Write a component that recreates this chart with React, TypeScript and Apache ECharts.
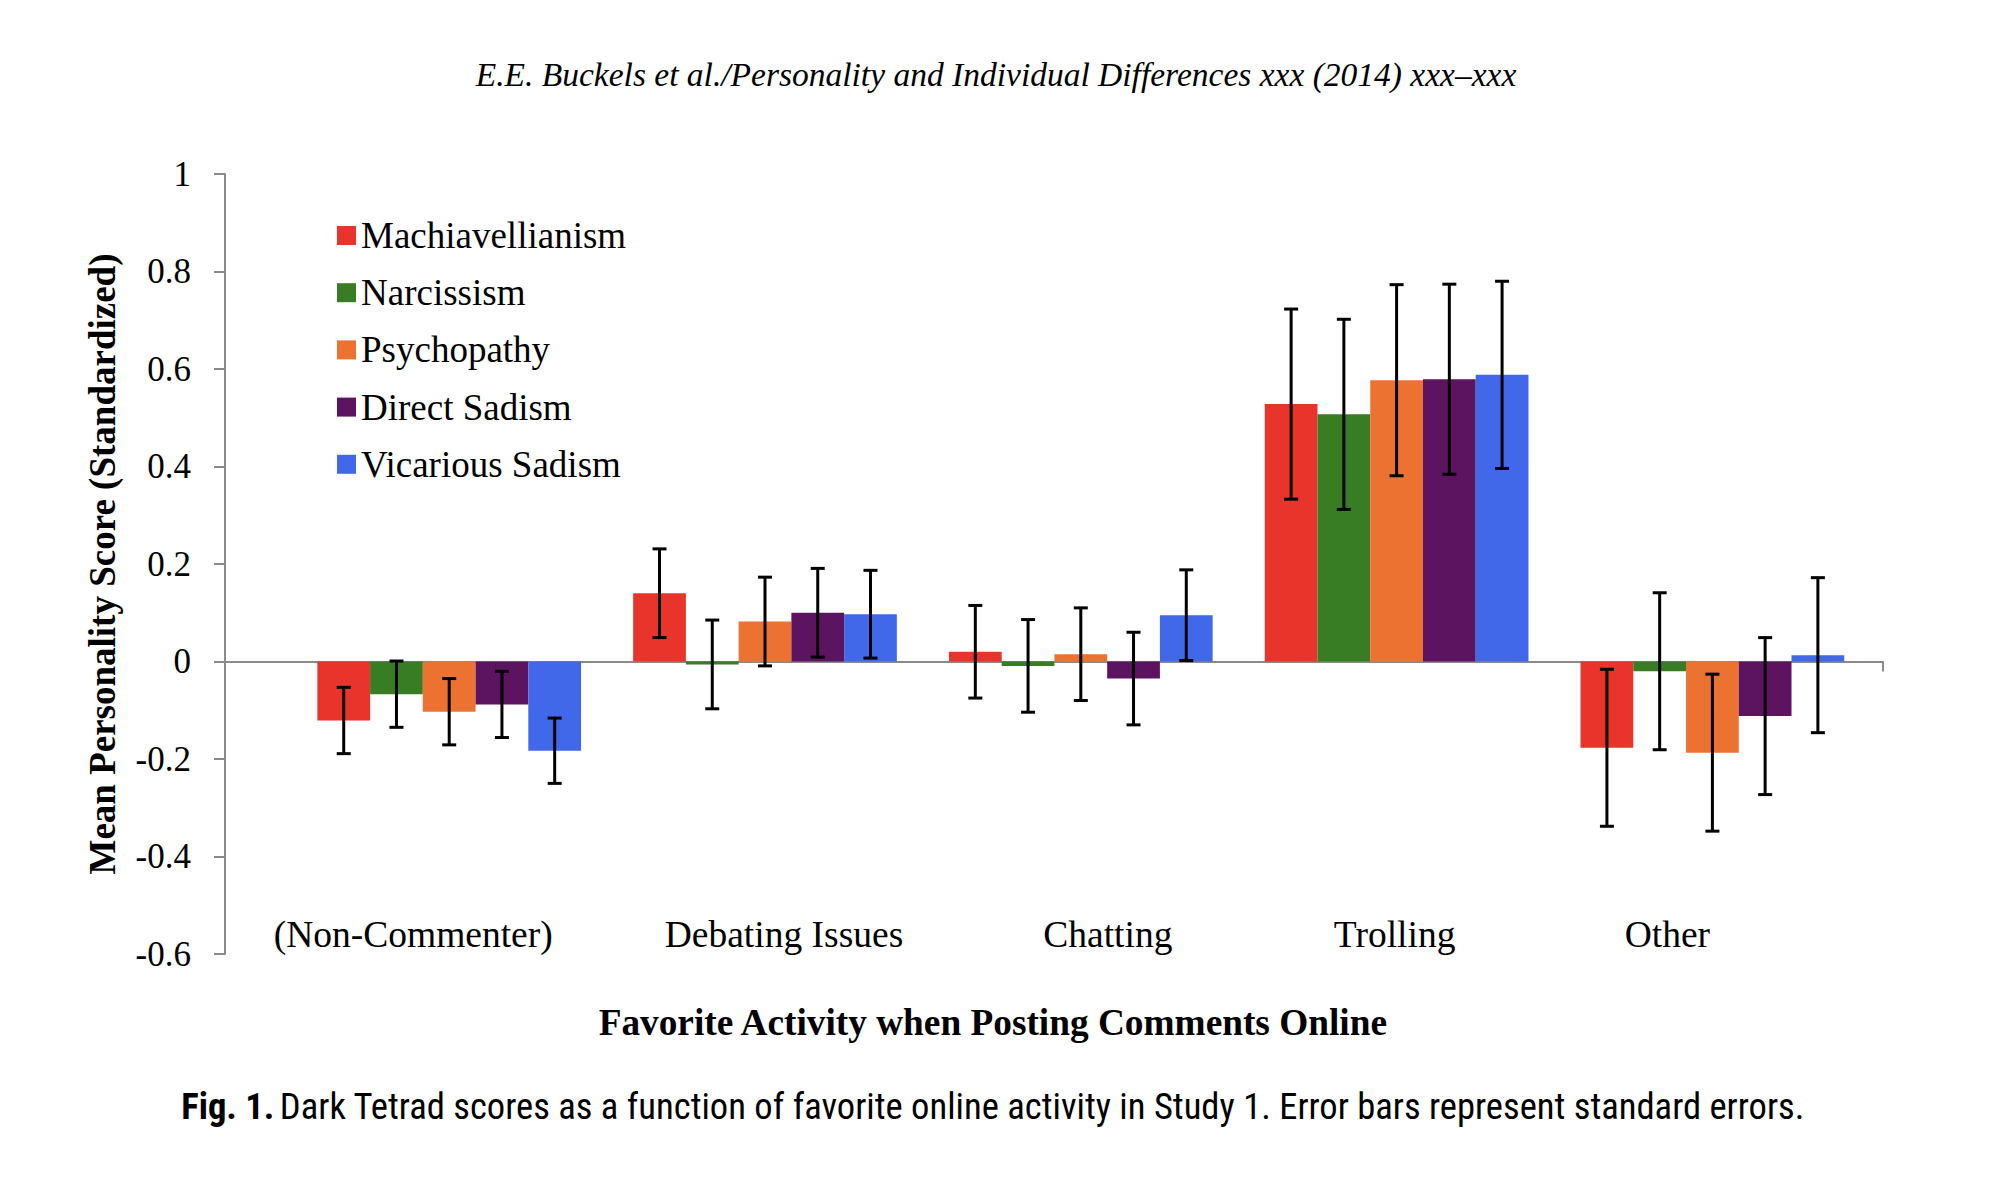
import React, { useEffect, useRef } from "react";
import * as echarts from "echarts";

// ---------------- data ----------------
const categories = ["(Non-Commenter)", "Debating Issues", "Chatting", "Trolling", "Other"];
const seriesNames = ["Machiavellianism", "Narcissism", "Psychopathy", "Direct Sadism", "Vicarious Sadism"];
const seriesColors = ["#E8342A", "#387D24", "#EC7231", "#5C1460", "#4068E8"];

const machiavellianism = [-0.121, 0.14, 0.02, 0.528, -0.177];
const narcissism = [-0.067, -0.006, -0.009, 0.507, -0.02];
const psychopathy = [-0.103, 0.082, 0.015, 0.577, -0.187];
const directSadism = [-0.088, 0.1, -0.035, 0.579, -0.112];
const vicariousSadism = [-0.183, 0.097, 0.095, 0.588, 0.013];

const machiavellianismSE = [0.068, 0.091, 0.095, 0.195, 0.161];
const narcissismSE = [0.068, 0.091, 0.095, 0.195, 0.161];
const psychopathySE = [0.068, 0.091, 0.095, 0.196, 0.161];
const directSadismSE = [0.068, 0.091, 0.095, 0.195, 0.161];
const vicariousSadismSE = [0.067, 0.09, 0.093, 0.192, 0.159];

const yMin = -0.6;
const yMax = 1;
const yStep = 0.2;
const yTickLabels = ["-0.6", "-0.4", "-0.2", "0", "0.2", "0.4", "0.6", "0.8", "1"];

const headerText = "E.E. Buckels et al./Personality and Individual Differences xxx (2014) xxx\u2013xxx";
const yAxisTitle = "Mean Personality Score (Standardized)";
const xAxisTitle = "Favorite Activity when Posting Comments Online";
const captionBold = "Fig. 1.";
const captionText = "Dark Tetrad scores as a function of favorite online activity in Study 1. Error bars represent standard errors.";

const seriesValues = [machiavellianism, narcissism, psychopathy, directSadism, vicariousSadism];
const seriesSE = [machiavellianismSE, narcissismSE, psychopathySE, directSadismSE, vicariousSadismSE];

// ---------------- styling ----------------
const SERIF = '"Liberation Serif", "Times New Roman", Times, serif';
const SANS_NARROW = '"Liberation Sans Narrow", "Arial Narrow", "Roboto Condensed", "Liberation Sans", sans-serif';
const AXIS_GREY = "#8a8a8a";
const BAR_CATEGORY_GAP = 0.165;

// per-label horizontal padding (left, right) to mimic hand-placed labels
const labelPads: [number, number][] = [
  [0, 72],
  [38, 0],
  [54, 0],
  [0, 4],
  [0, 90],
];

function buildOption(): echarts.EChartsCoreOption {
  const barSeries = seriesNames.map((name, k) => ({
    name,
    type: "bar",
    xAxisIndex: 1,
    yAxisIndex: 1,
    barGap: "0%",
    barCategoryGap: BAR_CATEGORY_GAP * 100 + "%",
    itemStyle: { color: seriesColors[k] },
    data: seriesValues[k],
    z: 2,
  }));

  const errData: number[][] = [];
  seriesValues.forEach((vals, k) => {
    vals.forEach((v, i) => {
      const se = seriesSE[k][i];
      errData.push([i, k, v - se, v + se]);
    });
  });

  const errorSeries = {
    name: "errors",
    type: "custom",
    xAxisIndex: 1,
    yAxisIndex: 1,
    z: 5,
    data: errData,
    encode: { x: 0, y: [2, 3] },
    renderItem: (_params: any, api: any) => {
      const cat = api.value(0);
      const k = api.value(1);
      const lo = api.value(2);
      const hi = api.value(3);
      const band = api.size([1, 0])[0];
      const groupW = band * (1 - BAR_CATEGORY_GAP);
      const barW = groupW / seriesNames.length;
      const cx = api.coord([cat, 0])[0] - groupW / 2 + barW * (k + 0.5);
      const yLo = api.coord([cat, lo])[1];
      const yHi = api.coord([cat, hi])[1];
      const cap = 7;
      const style = { stroke: "#000", lineWidth: 3 };
      return {
        type: "group",
        children: [
          { type: "line", shape: { x1: cx, y1: yHi, x2: cx, y2: yLo }, style },
          { type: "line", shape: { x1: cx - cap, y1: yHi, x2: cx + cap, y2: yHi }, style },
          { type: "line", shape: { x1: cx - cap, y1: yLo, x2: cx + cap, y2: yLo }, style },
        ],
      };
    },
  };

  const rich: Record<string, any> = {};
  labelPads.forEach((p, i) => {
    rich["c" + i] = {
      fontFamily: SERIF,
      fontSize: 37.5,
      color: "#000",
      padding: [0, p[1], 0, p[0]],
    };
  });

  return {
    animation: false,
    backgroundColor: "#fff",
    title: [
      {
        text: headerText,
        left: 991,
        top: 52,
        textAlign: "center",
        textStyle: { fontFamily: SERIF, fontStyle: "italic", fontWeight: "normal", fontSize: 33.5, color: "#000" },
      },
      {
        text: "{b|" + captionBold + "} {n|" + captionText + "}",
        left: 988,
        top: 1083,
        textAlign: "center",
        textStyle: {
          rich: {
            b: { fontFamily: SANS_NARROW, fontWeight: "bold", fontSize: 36.6, color: "#000" },
            n: { fontFamily: SANS_NARROW, fontWeight: "normal", fontSize: 36.6, color: "#000" },
          },
        },
      },
    ],
    legend: {
      data: seriesNames,
      orient: "vertical",
      left: 332,
      top: 212,
      itemWidth: 19,
      itemHeight: 19,
      itemGap: 20.2,
      icon: "rect",
      selectedMode: false,
      textStyle: { fontFamily: SERIF, fontSize: 37, color: "#000" },
    },
    grid: [
      { left: 225, top: 174, width: 1658, height: 780, containLabel: false },
      { left: 291.3, top: 174, width: 1579, height: 780, containLabel: false },
    ],
    xAxis: [
      {
        type: "value",
        gridIndex: 0,
        min: 0,
        max: 1,
        axisLine: { show: true, onZero: true, lineStyle: { color: AXIS_GREY, width: 2 } },
        axisTick: { show: true, customValues: [1], length: 10, lineStyle: { color: AXIS_GREY, width: 2 } },
        axisLabel: { show: false },
        splitLine: { show: false },
      },
      {
        type: "category",
        gridIndex: 1,
        data: categories,
        position: "bottom",
        axisLine: { show: false, onZero: false },
        axisTick: { show: false },
        splitLine: { show: false },
        axisLabel: {
          margin: -1,
          verticalAlign: "bottom",
          interval: 0,
          formatter: (v: string, i: number) => "{c" + i + "|" + v + "}",
          rich,
        },
        name: xAxisTitle,
        nameLocation: "middle",
        nameGap: 50,
        nameTextStyle: {
          fontFamily: SERIF,
          fontWeight: "bold",
          fontSize: 37.3,
          color: "#000",
          padding: [0, 176, 0, 0],
        },
      },
    ],
    yAxis: [
      {
        type: "value",
        gridIndex: 0,
        min: yMin,
        max: yMax,
        interval: yStep,
        axisLine: { show: true, lineStyle: { color: AXIS_GREY, width: 2 } },
        axisTick: { show: true, length: 11, lineStyle: { color: AXIS_GREY, width: 2 } },
        splitLine: { show: false },
        axisLabel: {
          margin: 34,
          fontFamily: SERIF,
          fontSize: 35,
          color: "#000",
          formatter: (v: number) => {
            const idx = Math.round((v - yMin) / yStep);
            return yTickLabels[idx] ?? String(v);
          },
        },
        name: yAxisTitle,
        nameLocation: "middle",
        nameRotate: 90,
        nameGap: 104,
        nameTextStyle: { fontFamily: SERIF, fontWeight: "bold", fontSize: 37, color: "#000" },
      },
      {
        type: "value",
        gridIndex: 1,
        min: yMin,
        max: yMax,
        interval: yStep,
        show: false,
        splitLine: { show: false },
      },
    ],
    series: [...barSeries, errorSeries],
  };
}

export default function App() {
  const ref = useRef<HTMLDivElement>(null);
  useEffect(() => {
    if (!ref.current) return;
    const chart = echarts.init(ref.current, undefined, { renderer: "svg" });
    chart.setOption(buildOption());
    return () => chart.dispose();
  }, []);
  return (
    <div
      ref={ref}
      style={{ position: "absolute", left: 0, top: 0, width: 2016, height: 1192, background: "#fff" }}
    />
  );
}
